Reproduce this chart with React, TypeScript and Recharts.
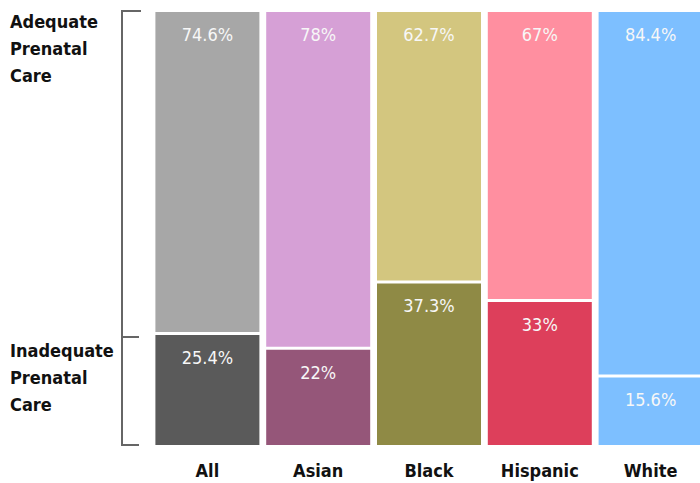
import { BarChart, Bar, XAxis, YAxis, Cell, LabelList, Rectangle } from "recharts";

const categories = ["All", "Asian", "Black", "Hispanic", "White"];
const adequate = [74.6, 78, 62.7, 67, 84.4];
const inadequate = [25.4, 22, 37.3, 33, 15.6];

const adequateColors = ["#a7a7a7", "#d6a0d6", "#d3c67f", "#ff8fa0", "#7dbfff"];
const inadequateColors = ["#5a5a5a", "#955679", "#8f8a45", "#dd3f5b", "#7dbfff"];

const data = categories.map((name, i) => ({
  name,
  adequate: adequate[i],
  inadequate: inadequate[i],
}));

const WIDTH = 706;
const HEIGHT = 483;
const TOP = 12;
const AXIS_H = 38;
const PLOT_H = HEIGHT - TOP - AXIS_H;
const plotY = (pct: number) => TOP + PLOT_H * (1 - pct / 100);

const heavy = "'DejaVu Sans Condensed', 'DejaVu Sans', sans-serif";

const valueLabel = (props: any) => {
  const { x, y, width, value } = props;
  return (
    <text
      x={x + width / 2}
      y={y + 29}
      textAnchor="middle"
      fill="#f7f7f7"
      fontSize={18}
      fontFamily={heavy}
      style={{ fontStretch: "condensed" }}
    >
      {value}%
    </text>
  );
};

const CategoryTick = (props: any) => {
  const { x, y, payload } = props;
  return (
    <text
      x={x}
      y={y + 24}
      textAnchor="middle"
      fill="#111"
      fontSize={18}
      fontWeight="bold"
      fontFamily={heavy}
      style={{ fontStretch: "condensed" }}
    >
      {payload.value}
    </text>
  );
};

// top segment leaves a thin white gap above the lower one
const TopShape = (props: any) => (
  <Rectangle {...props} height={Math.max(0, props.height - 3)} />
);

const SideLabel = ({ lines, top }: { lines: string[]; top: number }) => (
  <div
    style={{
      position: "absolute",
      left: 10,
      top,
      fontFamily: heavy,
      fontStretch: "condensed",
      fontWeight: "bold",
      fontSize: 18,
      lineHeight: "27px",
      color: "#111",
    }}
  >
    {lines.map((l) => (
      <div key={l}>{l}</div>
    ))}
  </div>
);

export default function App() {
  const splitY = plotY(inadequate[0]);
  const bottomY = plotY(0);
  const topY = plotY(100);
  return (
    <div
      style={{
        position: "absolute",
        left: 0,
        top: 0,
        width: 700,
        height: HEIGHT,
        overflow: "hidden",
        background: "#fff",
      }}
    >
      <SideLabel lines={["Adequate", "Prenatal", "Care"]} top={8} />
      <SideLabel lines={["Inadequate", "Prenatal", "Care"]} top={337} />
      <svg
        width={150}
        height={HEIGHT}
        style={{ position: "absolute", left: 0, top: 0 }}
      >
        <g stroke="#666" strokeWidth={2} fill="none">
          <polyline points={`141,${topY - 1} 122,${topY - 1} 122,${bottomY} 139,${bottomY}`} />
          <line x1={122} y1={splitY + 2} x2={139} y2={splitY + 2} />
        </g>
      </svg>
      <div style={{ position: "absolute", left: 0, top: 0 }}>
        <BarChart
          width={WIDTH}
          height={HEIGHT}
          data={data}
          margin={{ top: TOP, right: 0, bottom: 0, left: 152 }}
          barCategoryGap={3.4}
        >
          <XAxis
            dataKey="name"
            height={AXIS_H}
            axisLine={false}
            tickLine={false}
            tick={<CategoryTick />}
            interval={0}
          />
          <YAxis hide domain={[0, 100]} />
          <Bar dataKey="inadequate" stackId="a" isAnimationActive={false}>
            {data.map((_, i) => (
              <Cell key={i} fill={inadequateColors[i]} />
            ))}
            <LabelList dataKey="inadequate" content={valueLabel} />
          </Bar>
          <Bar
            dataKey="adequate"
            stackId="a"
            isAnimationActive={false}
            shape={<TopShape />}
          >
            {data.map((_, i) => (
              <Cell key={i} fill={adequateColors[i]} />
            ))}
            <LabelList dataKey="adequate" content={valueLabel} />
          </Bar>
        </BarChart>
      </div>
    </div>
  );
}
